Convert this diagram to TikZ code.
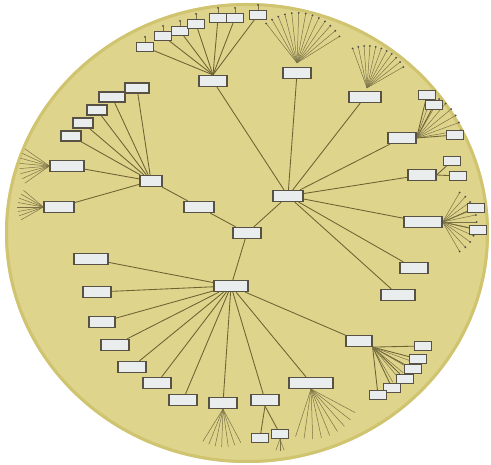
\documentclass[tikz,border=0pt]{standalone}
\usetikzlibrary{arrows.meta,positioning,backgrounds}
\definecolor{disk}{RGB}{222,212,140}
\definecolor{rim}{RGB}{208,196,112}
\definecolor{branch}{RGB}{108,98,50}
\definecolor{boxline}{RGB}{88,82,70}
\definecolor{boxfill}{RGB}{234,237,238}

\begin{document}
\begin{tikzpicture}[x=1pt,y=-1pt,
box/.style={draw=boxline, fill=boxfill, line width=1.2pt, minimum width=28pt, minimum height=11pt, inner sep=0pt},
sbox/.style={box, minimum width=17pt, minimum height=9pt, line width=1pt},
edge/.style={draw=branch, line width=0.85pt},
twig/.style={draw=branch!90, line width=0.5pt},
tip/.style={circle, fill=black!70, inner sep=0pt, minimum size=2pt}
]
\useasboundingbox (0,0) rectangle (491,465);

% centre and first ring
\node[box] (root) at (247,233) {};
\node[box, minimum width=30pt] (hubA) at (288,196) {};
\node[box, minimum width=22pt] (hubB) at (151,181) {};
\node[box, minimum width=34pt] (hubC) at (231,286) {};
\node[box, minimum width=30pt] (mid) at (199,207) {};

% upper branch
\node[box] (italia) at (213,81) {};
\node[box] (lisbon) at (297,73) {};
\node[box, minimum width=32pt] (porto) at (365,97) {};
\node[box] (quay) at (402,138) {};
\node[box] (rail) at (422,175) {};
\node[box, minimum width=38pt] (side) at (423,222) {};
\node[box] (town) at (414,268) {};
\node[box, minimum width=34pt] (union) at (398,295) {};

\node[sbox] (it1) at (145,47) {};
\node[sbox] (it2) at (163,36) {};
\node[sbox] (it3) at (180,31) {};
\node[sbox] (it4) at (196,24) {};
\node[sbox] (it5) at (218,18) {};
\node[sbox] (it6) at (235,18) {};
\node[sbox] (it7) at (258,15) {};

\node[sbox] (qu1) at (427,95) {};
\node[sbox] (qu2) at (434,105) {};
\node[sbox] (qu3) at (455,135) {};
\node[sbox] (ra1) at (452,161) {};
\node[sbox] (ra2) at (458,176) {};
\node[sbox] (si1) at (476,208) {};
\node[sbox] (si2) at (478,230) {};

% left branch
\node[box, minimum width=24pt, minimum height=10pt] (lb1) at (137,88) {};
\node[box, minimum width=26pt, minimum height=10pt] (lb2) at (112,97) {};
\node[box, minimum width=20pt, minimum height=10pt] (lb3) at (97,110) {};
\node[box, minimum width=20pt, minimum height=10pt] (lb4) at (83,123) {};
\node[box, minimum width=20pt, minimum height=10pt] (lb5) at (71,136) {};
\node[box, minimum width=34pt] (lb6) at (67,166) {};
\node[box, minimum width=30pt] (lb7) at (59,207) {};

% lower branch
\node[box, minimum width=34pt] (lo1) at (91,259) {};
\node[box] (lo2) at (97,292) {};
\node[box, minimum width=26pt] (lo3) at (102,322) {};
\node[box] (lo4) at (115,345) {};
\node[box] (lo5) at (132,367) {};
\node[box] (lo6) at (157,383) {};
\node[box] (lo7) at (183,400) {};
\node[box] (lo8) at (223,403) {};
\node[box] (lo9) at (265,400) {};
\node[box, minimum width=44pt] (lo10) at (311,383) {};
\node[box, minimum width=26pt] (east) at (359,341) {};

\node[sbox] (ni1) at (260,438) {};
\node[sbox] (ni2) at (280,434) {};
\node[sbox] (ea1) at (423,346) {};
\node[sbox] (ea2) at (418,359) {};
\node[sbox] (ea3) at (413,369) {};
\node[sbox] (ea4) at (405,379) {};
\node[sbox] (ea5) at (392,388) {};
\node[sbox] (ea6) at (378,395) {};

\begin{scope}[on background layer]
\fill[white] (0,0) rectangle (491,465);
\fill[disk] (247,233) ellipse [x radius=242, y radius=230];
\draw[rim, line width=3pt] (247,233) ellipse [x radius=240.5, y radius=228.5];

\draw[edge] (root) -- (hubA);
\draw[edge] (root) -- (mid) -- (hubB);
\draw[edge] (root) -- (hubC);

\foreach \n in {italia,lisbon,porto,quay,rail,side,town,union}
  \draw[edge] (hubA) -- (\n);
\foreach \n in {it1,it2,it3,it4,it5,it6,it7}{
  \draw[edge] (italia.north) -- (\n);
  \draw[twig] (\n.north) -- ++(0,-5) node[tip] (\n t) {};
}
\foreach \n in {qu1,qu2,qu3}
  \draw[edge] (quay.east) -- (\n);
\foreach \n in {ra1,ra2}
  \draw[edge] (rail.east) -- (\n);
\foreach \n in {si1,si2}
  \draw[edge] (side.east) -- (\n);

\foreach \n in {lb1,lb2,lb3,lb4,lb5,lb6,lb7}
  \draw[edge] (hubB) -- (\n);
\foreach \n in {lo1,lo2,lo3,lo4,lo5,lo6,lo7,lo8,lo9,lo10,east}
  \draw[edge] (hubC) -- (\n);
\foreach \n in {ni1,ni2}
  \draw[edge] (lo9.south) -- (\n);
\foreach \n in {ea1,ea2,ea3,ea4,ea5,ea6}
  \draw[edge] (east.south east) -- (\n);

% fans to the rim
\foreach \a in {232,240,...,328}
  \draw[twig] (lisbon.north) ++(0,-4) -- ++(\a:50) node[tip] (lf\a) {};
\foreach \a in {250,258,...,330}
  \draw[twig] (porto.north) ++(2,-3) -- ++(\a:42) node[tip] (pf\a) {};
\foreach \a in {290,300,...,350}
  \draw[twig] (quay.east) -- ++(\a:45) node[tip] (qf\a) {};
\foreach \a in {-60,-48,...,60}
  \draw[twig] (side.east) -- ++(\a:34) node[tip] (sf\a) {};
\foreach \a in {145,155,...,215}
  \draw[twig] (lb6.west) -- ++(\a:30) coordinate (vf\a);
\foreach \a in {150,160,...,220}
  \draw[twig] (lb7.west) -- ++(\a:26) coordinate (wf\a);
\foreach \a in {62,72,...,122}
  \draw[twig] (lo8.south) -- ++(\a:38) coordinate (ef\a);
\foreach \a in {28,38,...,108}
  \draw[twig] (lo10.south) -- ++(\a:50) coordinate (tf\a);
\foreach \a in {20,30,...,60}
  \draw[twig] (east.south east) -- ++(\a:40) coordinate (xf\a);
\foreach \a in {70,90,110}
  \draw[twig] (ni2.south) -- ++(\a:12) coordinate (nf\a);
\end{scope}
\end{tikzpicture}
\end{document}
